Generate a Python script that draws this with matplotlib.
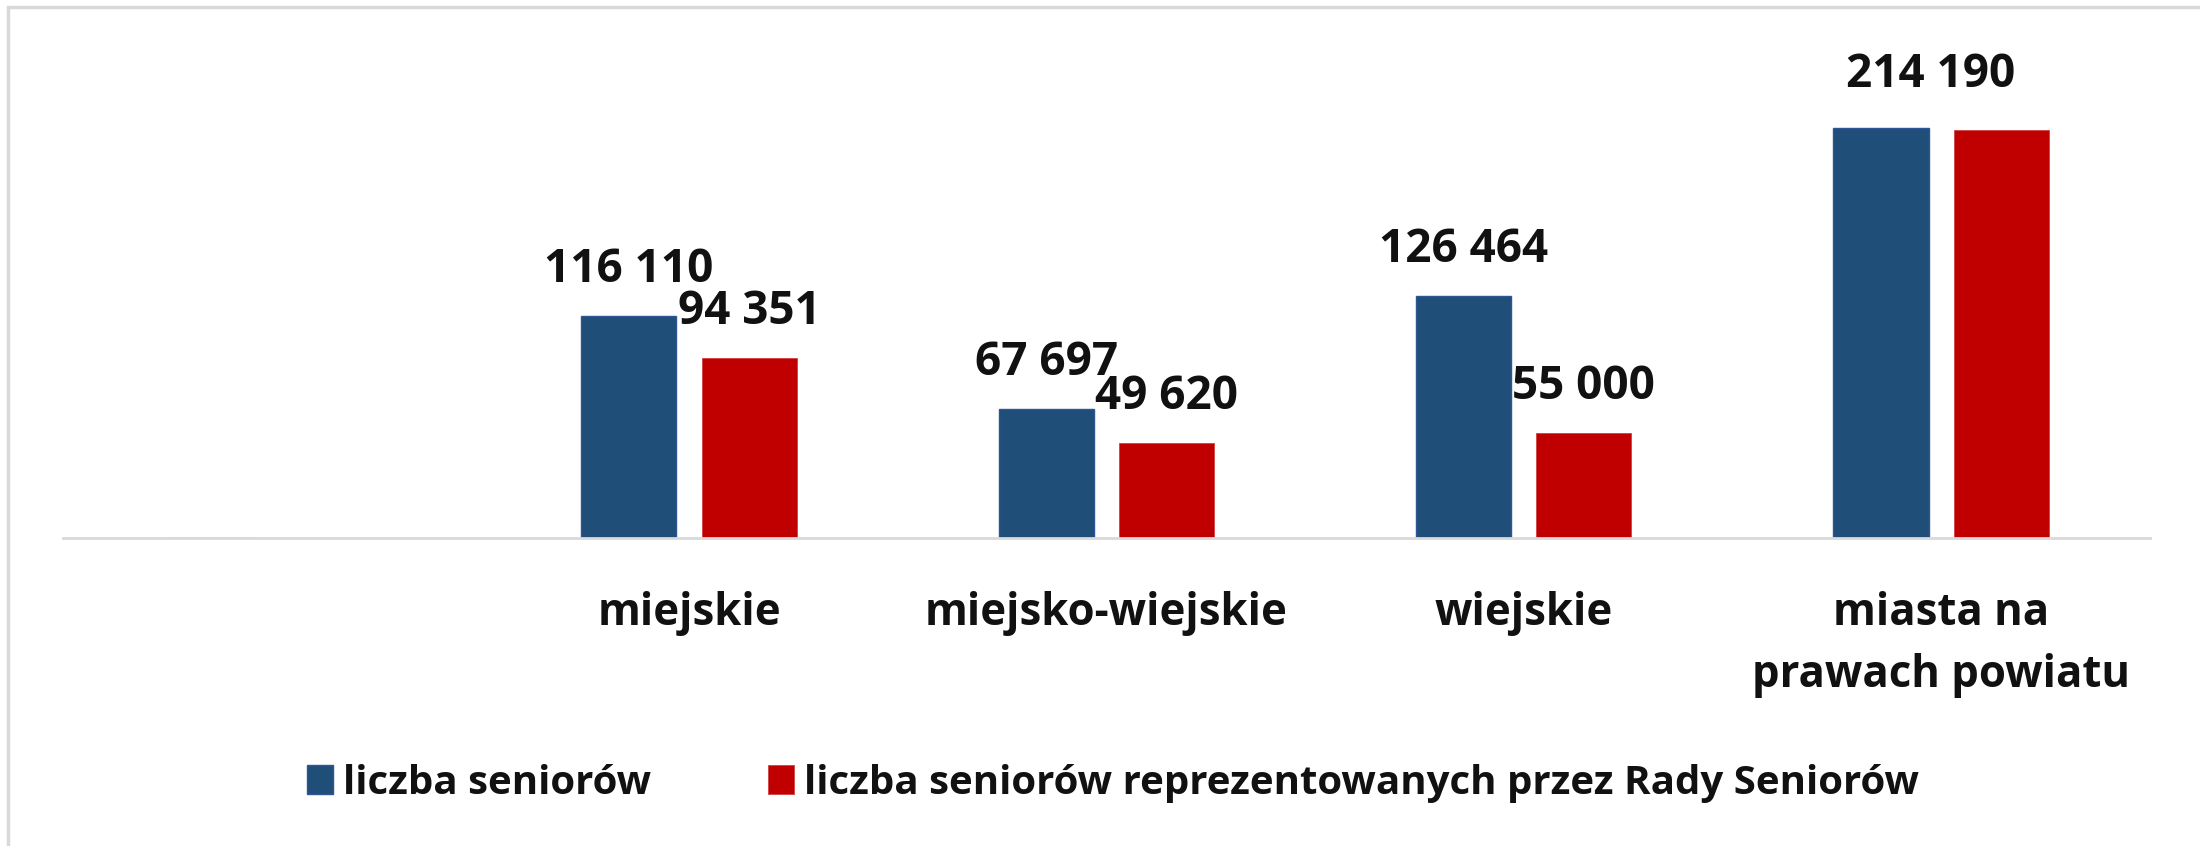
import matplotlib
matplotlib.use('Agg')
import matplotlib.pyplot as plt
import numpy as np
from matplotlib.patches import Rectangle

categories = ["", "miejskie", "miejsko-wiejskie", "wiejskie", "miasta na\nprawach powiatu"]
seniorzy = [0, 116110, 67697, 126464, 214190]
reprezentowani = [0, 94351, 49620, 55000, 213300]
# which bars get a value label (the last red bar has none in the original)
label_seniorzy = [False, True, True, True, True]
label_reprezentowani = [False, True, True, True, False]
series_names = ["liczba seniorów", "liczba seniorów reprezentowanych przez Rady Seniorów"]

BLUE = "#1F4E79"
RED = "#C00000"
GRAY = "#D9D9D9"

plt.rcParams['font.family'] = ['Open Sans', 'DejaVu Sans']
plt.rcParams['font.weight'] = 'bold'

fig = plt.figure(figsize=(22, 8.46), dpi=100)
ax = fig.add_axes([0.0286, 0.364, 0.9486, 0.588])

x = np.arange(len(categories))
w = 0.228
off = 0.144

b1 = ax.bar(x - off, seniorzy, w, color=BLUE, edgecolor="#2F5597", linewidth=1, label=series_names[0])
b2 = ax.bar(x + off, reprezentowani, w, color=RED, edgecolor="#D04040", linewidth=0.6, label=series_names[1])

def fmt(v):
    return f"{v:,}".replace(",", " ")

for i, (xi, v, show) in enumerate(zip(x - off, seniorzy, label_seniorzy)):
    if show:
        # the label of the last group sits over the middle of the pair
        dx, dy = (36, 30) if i == len(categories) - 1 else (0, 24.5)
        ax.annotate(fmt(v), xy=(xi, v), xytext=(dx, dy), textcoords='offset points',
                    ha='center', va='baseline', fontsize=33, fontweight='bold', color='#111111')
for xi, v, show in zip(x + off, reprezentowani, label_reprezentowani):
    if show:
        ax.annotate(fmt(v), xy=(xi, v), xytext=(0, 24.5), textcoords='offset points',
                    ha='center', va='baseline', fontsize=33, fontweight='bold', color='#111111')

ax.set_xlim(-0.5, len(categories) - 0.5)
ax.set_ylim(0, 260000)
ax.set_xticks(x)
ax.set_xticklabels(categories, fontsize=31.5, fontweight='bold', color='#111111', linespacing=1.5)
ax.tick_params(axis='x', length=0, pad=38)
ax.set_yticks([])
for s in ['top', 'right', 'left']:
    ax.spines[s].set_visible(False)
ax.spines['bottom'].set_color(GRAY)
ax.spines['bottom'].set_linewidth(2)

leg = fig.legend(handles=[b1, b2], labels=series_names, loc='center', bbox_to_anchor=(0.506, 0.074),
                 ncol=2, frameon=False, fontsize=29, handlelength=0.65, handleheight=0.72,
                 handletextpad=0.25, columnspacing=2.9)
for t in leg.get_texts():
    t.set_fontweight('bold')
    t.set_color('#111111')

# light frame around the chart area
fig.patches.append(Rectangle((8 / 2200, -0.1), 1.2, 1 - 7.5 / 846 + 0.1, transform=fig.transFigure,
                             fill=False, edgecolor=GRAY, linewidth=2.5))

fig.savefig("out.png", dpi=100, facecolor='white')
